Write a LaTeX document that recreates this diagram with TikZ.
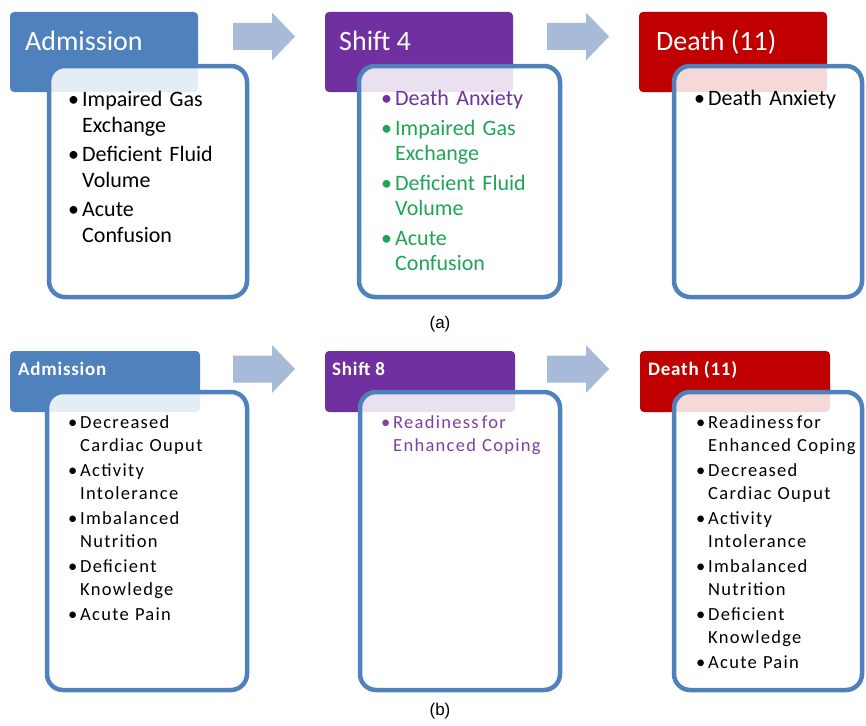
\documentclass[tikz,border=0pt]{standalone}
\usepackage{fontspec}
\setmainfont{Carlito}
\newfontfamily\spaced[LetterSpace=7]{Carlito}
\newfontfamily\spacedh[LetterSpace=4]{Carlito}
\newfontfamily\capfont{Liberation Sans}
\newlength\bulw
\newlength\itemgap
\newcommand\bitem[2]{\par\noindent\textcolor{#1}{\makebox[\bulw][l]{\textbullet}\parbox[t]{170pt}{\raggedright\strut #2\strut}}\par\prevdepth=\dp\strutbox}
\newcommand\bgap{\vspace{\itemgap}}
\definecolor{hblue}{RGB}{79,129,189}
\definecolor{hpurple}{RGB}{112,48,160}
\definecolor{hred}{RGB}{192,0,0}
\definecolor{boxc}{RGB}{79,129,189}
\definecolor{arrowc}{RGB}{167,186,216}
\definecolor{tgreen}{RGB}{30,165,85}
\definecolor{tpurple}{RGB}{112,48,160}
\definecolor{tpurpleb}{RGB}{125,65,165}
\begin{document}
\begin{tikzpicture}[x=1pt,y=-1pt,
  hdr/.style={rounded corners=4pt, anchor=north west, minimum width=188pt, inner sep=0pt, outer sep=0pt, draw=none},
  hdra/.style={hdr, minimum height=80pt},
  hdrb/.style={hdr, minimum width=190pt, minimum height=61pt},
  cbox/.style={draw=boxc, line width=4.5pt, rounded corners=16pt, fill=white, fill opacity=0.85, anchor=north west, inner sep=0pt, outer sep=0pt},
  htxta/.style={text=white, font=\fontsize{28}{30}\selectfont, anchor=base west, inner sep=0pt},
  htxtb/.style={text=white, font=\spacedh\bfseries\fontsize{19}{21}\selectfont, anchor=base west, inner sep=0pt},
  lista/.style={anchor=north west, inner sep=0pt, text width=185pt, align=left,
    font={\fontsize{22}{25.5}\selectfont\setlength\bulw{14pt}\setlength\itemgap{4pt}}},
  listb/.style={anchor=north west, inner sep=0pt, text width=185pt, align=left,
    font={\spaced\fontsize{18.5}{22.5}\selectfont\setlength\bulw{12pt}\setlength\itemgap{3pt}}},
  capt/.style={font=\capfont\fontsize{17}{19}\selectfont, inner sep=0pt},
  blockarrow/.pic={\fill[arrowc] (0,-13.5) -- (39,-13.5) -- (39,-24) -- (62,0) -- (39,24) -- (39,13.5) -- (0,13.5) -- cycle;}
]
\useasboundingbox (0,0) rectangle (866,725);
\fill[white] (0,0) rectangle (866,725);

% ---------- panel (a) ----------
\node[hdra, fill=hblue] (ha1) at (10,12) {};
\node[hdra, fill=hpurple] (ha2) at (325,12) {};
\node[hdra, fill=hred] (ha3) at (639,12) {};
\node[htxta] (ta1) at (25,50) {Admission};
\node[htxta] (ta2) at (339,50) {Shift 4};
\node[htxta] (ta3) at (656,50) {Death (11)};

\pic at (233,36.5) {blockarrow};
\pic at (547,36.5) {blockarrow};

\node[cbox, minimum width=198pt, minimum height=231pt] (ca1) at (49,66) {};
\node[cbox, minimum width=201pt, minimum height=231pt] (ca2) at (359,66) {};
\node[cbox, minimum width=188pt, minimum height=231pt] (ca3) at (674,66) {};

\node[lista] (la1) at (68,81) {%
  \bitem{black}{Impaired Gas\\Exchange}\bgap
  \bitem{black}{Deficient Fluid\\Volume}\bgap
  \bitem{black}{Acute\\Confusion}};
\node[lista] (la2) at (381,80) {%
  \bitem{tpurple}{Death Anxiety}\bgap
  \bitem{tgreen}{Impaired Gas\\Exchange}\bgap
  \bitem{tgreen}{Deficient Fluid\\Volume}\bgap
  \bitem{tgreen}{Acute\\Confusion}};
\node[lista] (la3) at (694,80) {%
  \bitem{black}{Death Anxiety}};

\node[capt] (capa) at (440,324) {(a)};

% ---------- panel (b) ----------
\node[hdrb, fill=hblue] (hb1) at (10,351) {};
\node[hdrb, fill=hpurple] (hb2) at (325,351) {};
\node[hdrb, fill=hred] (hb3) at (640,351) {};
\node[htxtb] (tb1) at (18,375) {Admission};
\node[htxtb] (tb2) at (332,375) {Shift 8};
\node[htxtb] (tb3) at (648,375) {Death (11)};

\pic at (233,369) {blockarrow};
\pic at (547,369) {blockarrow};

\node[cbox, minimum width=200pt, minimum height=298pt] (cb1) at (47,392) {};
\node[cbox, minimum width=200pt, minimum height=298pt] (cb2) at (360,392) {};
\node[cbox, minimum width=188pt, minimum height=298pt] (cb3) at (674,392) {};

\node[listb] (lb1) at (68,406) {%
  \bitem{black}{Decreased\\Cardiac Ouput}\bgap
  \bitem{black}{Activity\\Intolerance}\bgap
  \bitem{black}{Imbalanced\\Nutrition}\bgap
  \bitem{black}{Deficient\\Knowledge}\bgap
  \bitem{black}{Acute Pain}};
\node[listb] (lb2) at (381,406) {%
  \bitem{tpurpleb}{Readiness\,for\\Enhanced Coping}};
\node[listb] (lb3) at (696,406) {%
  \bitem{black}{Readiness\,for\\Enhanced Coping}\bgap
  \bitem{black}{Decreased\\Cardiac Ouput}\bgap
  \bitem{black}{Activity\\Intolerance}\bgap
  \bitem{black}{Imbalanced\\Nutrition}\bgap
  \bitem{black}{Deficient\\Knowledge}\bgap
  \bitem{black}{Acute Pain}};

\node[capt] (capb) at (440,711) {(b)};
\end{tikzpicture}
\end{document}
